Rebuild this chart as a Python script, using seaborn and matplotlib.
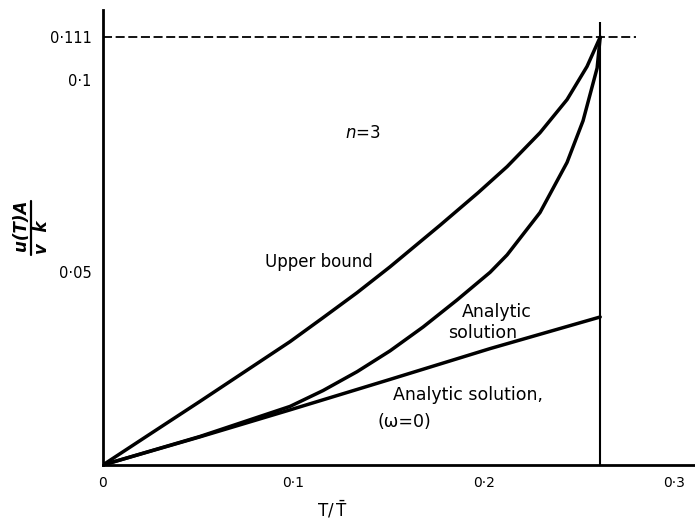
import pandas as pd
import seaborn as sns
import matplotlib.pyplot as plt
from matplotlib.lines import Line2D

# values (T/Tbar, u(T)A / v k)
t_upper = [0.0, 0.025, 0.051, 0.0983, 0.1156, 0.1335, 0.1508, 0.1771, 0.197, 0.2123, 0.2296, 0.2438, 0.2543, 0.2612]
u_upper = [0.0, 0.0081, 0.0165, 0.0320, 0.0382, 0.0447, 0.0514, 0.0622, 0.0706, 0.0774, 0.0862, 0.0948, 0.1034, 0.111]

t_analytic = [0.0, 0.051, 0.0983, 0.1156, 0.1335, 0.1508, 0.1682, 0.186, 0.2034, 0.2123, 0.2296, 0.2438, 0.2522, 0.2596, 0.2612]
u_analytic = [0.0, 0.0074, 0.0152, 0.0193, 0.0242, 0.0296, 0.0358, 0.0428, 0.0500, 0.0545, 0.0655, 0.0785, 0.0893, 0.1030, 0.111]

t_omega0 = [0.0, 0.051, 0.0983, 0.1508, 0.2034, 0.2612]
u_omega0 = [0.0, 0.0073, 0.0143, 0.0222, 0.0302, 0.0384]

t_end = 0.2612
u_end_top = 0.115
u_max = 0.111
t_dash_end = 0.28

xticks = [0, 0.1, 0.2, 0.3]
xtick_labels = ["0", "0·1", "0·2", "0·3"]
yticks = [0.05, 0.1, 0.111]
ytick_labels = ["0·05", "0·1", "0·111"]

curves = pd.concat([
    pd.DataFrame({"t": t_upper, "u": u_upper, "curve": "upper"}),
    pd.DataFrame({"t": t_analytic, "u": u_analytic, "curve": "analytic"}),
    pd.DataFrame({"t": t_omega0, "u": u_omega0, "curve": "omega0"}),
])

sns.set_theme(style="white")
plt.rcParams["font.family"] = ["DejaVu Sans"]
plt.rcParams["text.color"] = "black"
plt.rcParams["axes.labelcolor"] = "black"

fig = plt.figure(figsize=(6.95, 5.21), dpi=100)
ax = fig.add_axes([0.148, 0.1075, 0.852, 0.873])

sns.lineplot(data=curves, x="t", y="u", units="curve", estimator=None,
             color="black", linewidth=2.5, sort=False, ax=ax)

ax.vlines(t_end, 0, u_end_top, color="black", linewidth=1.5)
ax.hlines(u_max, 0, t_dash_end, color="black", linewidth=1.3, linestyles=(0, (5, 2)))

ax.set_xlim(0, 0.311)
ax.set_ylim(0, 0.118)

ax.set_xticks(xticks)
ax.set_xticklabels(xtick_labels, fontsize=10)
ax.set_yticks(yticks)
ax.set_yticklabels(ytick_labels, fontsize=10.5)
ax.tick_params(axis="both", direction="in", length=9, width=1.2, colors="black", pad=8)
ax.yaxis.get_major_ticks()[2].tick1line.set_visible(False)
ax.xaxis.get_major_ticks()[0].tick1line.set_visible(False)

sns.despine(ax=ax)
for s in ["left", "bottom"]:
    ax.spines[s].set_color("black")
    ax.spines[s].set_linewidth(2.0)

ax.set_xlabel(r"$\mathrm{T}/\,\bar{\mathrm{T}}$", fontsize=12)
ax.xaxis.set_label_coords(0.387, -0.075)
ax.set_ylabel("")

# y label drawn as a rotated fraction
fig.text(0.030, 0.568, "u(T)A", rotation=90, ha="center", va="center",
         fontsize=12, fontweight="bold", style="italic")
fig.text(0.0600, 0.545, "v  k", rotation=90, ha="center", va="center",
         fontsize=12, fontweight="bold", style="italic")
fig.add_artist(Line2D([0.0445, 0.0445], [0.511, 0.614], color="black", linewidth=1.6))

ax.text(0.127, 0.0862, r"$n$=3", fontsize=12, va="center")
ax.text(0.0851, 0.0527, "Upper bound", fontsize=12, va="center")
ax.text(0.1887, 0.0397, "Analytic", fontsize=12.5, va="center")
ax.text(0.1813, 0.0343, "solution", fontsize=12.5, va="center")
ax.text(0.1524, 0.0182, "Analytic solution,", fontsize=12.5, va="center")
ax.text(0.1445, 0.0112, "(ω=0)", fontsize=12.5, va="center")

fig.savefig("out.png", dpi=100)
